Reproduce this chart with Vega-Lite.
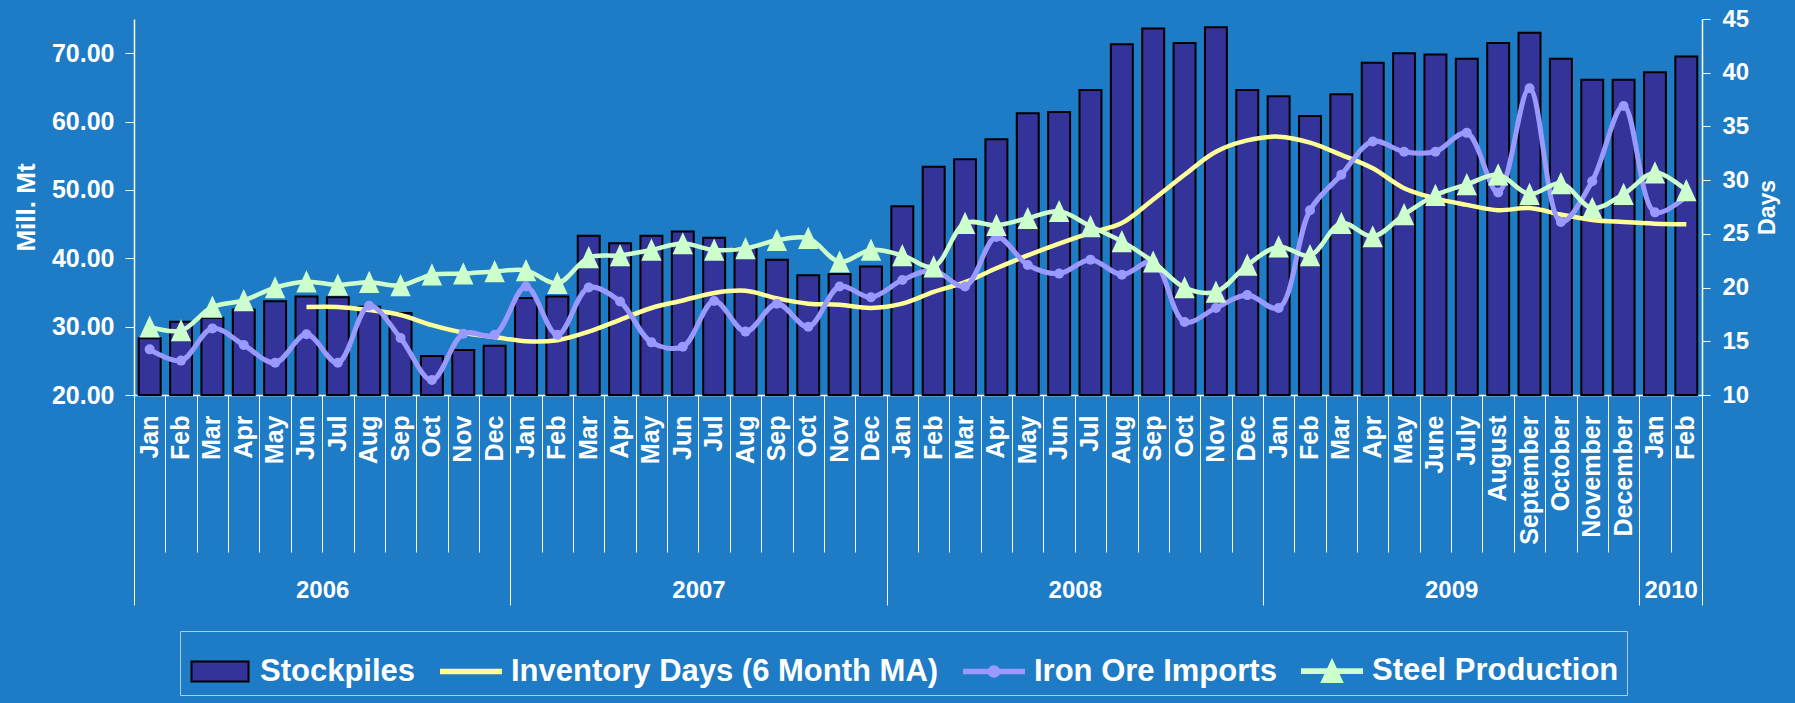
{
  "$schema": "https://vega.github.io/schema/vega-lite/v6.json",
  "width": 1568,
  "height": 376,
  "autosize": {"type": "none"},
  "padding": {"left": 134, "top": 19, "right": 93, "bottom": 308},
  "background": "#1E7BC5",
  "config": {
    "font": "Liberation Sans",
    "view": {"stroke": null},
    "axis": {
      "labelFont": "Liberation Sans", "labelFontWeight": "bold", "labelColor": "white",
      "titleFont": "Liberation Sans", "titleFontWeight": "bold", "titleColor": "white",
      "domainColor": "white", "tickColor": "white", "grid": false
    }
  },
  "data": {"values": [
    {"idx": 0, "key": "2006|Jan", "stock": 28.3, "iron": 14.25, "steel": 16.35},
    {"idx": 1, "key": "2006|Feb", "stock": 30.7, "iron": 13.2, "steel": 16.0},
    {"idx": 2, "key": "2006|Mar", "stock": 31.3, "iron": 16.2, "steel": 18.2},
    {"idx": 3, "key": "2006|Apr", "stock": 32.5, "iron": 14.65, "steel": 18.8},
    {"idx": 4, "key": "2006|May", "stock": 33.7, "iron": 13.0, "steel": 20.0},
    {"idx": 5, "key": "2006|Jun", "stock": 34.4, "inv": 18.2, "iron": 15.65, "steel": 20.55},
    {"idx": 6, "key": "2006|Jul", "stock": 34.3, "inv": 18.2, "iron": 13.0, "steel": 20.25},
    {"idx": 7, "key": "2006|Aug", "stock": 32.9, "inv": 17.9, "iron": 18.3, "steel": 20.5},
    {"idx": 8, "key": "2006|Sep", "stock": 32.0, "inv": 17.45, "iron": 15.3, "steel": 20.2},
    {"idx": 9, "key": "2006|Oct", "stock": 25.7, "inv": 16.5, "iron": 11.4, "steel": 21.2},
    {"idx": 10, "key": "2006|Nov", "stock": 26.6, "inv": 15.8, "iron": 15.7, "steel": 21.3},
    {"idx": 11, "key": "2006|Dec", "stock": 27.2, "inv": 15.4, "iron": 15.6, "steel": 21.5},
    {"idx": 12, "key": "2007|Jan", "stock": 34.2, "inv": 15.0, "iron": 20.1, "steel": 21.6},
    {"idx": 13, "key": "2007|Feb", "stock": 34.4, "inv": 15.1, "iron": 15.6, "steel": 20.4},
    {"idx": 14, "key": "2007|Mar", "stock": 43.3, "inv": 15.9, "iron": 20.0, "steel": 22.8},
    {"idx": 15, "key": "2007|Apr", "stock": 42.2, "inv": 17.0, "iron": 18.7, "steel": 23.0},
    {"idx": 16, "key": "2007|May", "stock": 43.3, "inv": 18.1, "iron": 14.9, "steel": 23.5},
    {"idx": 17, "key": "2007|Jun", "stock": 43.9, "inv": 18.8, "iron": 14.5, "steel": 24.1},
    {"idx": 18, "key": "2007|Jul", "stock": 43.0, "inv": 19.5, "iron": 18.75, "steel": 23.5},
    {"idx": 19, "key": "2007|Aug", "stock": 41.5, "inv": 19.7, "iron": 15.9, "steel": 23.65},
    {"idx": 20, "key": "2007|Sep", "stock": 39.8, "inv": 19.0, "iron": 18.5, "steel": 24.4},
    {"idx": 21, "key": "2007|Oct", "stock": 37.5, "inv": 18.5, "iron": 16.35, "steel": 24.6},
    {"idx": 22, "key": "2007|Nov", "stock": 37.7, "inv": 18.4, "iron": 20.1, "steel": 22.4},
    {"idx": 23, "key": "2007|Dec", "stock": 38.8, "inv": 18.1, "iron": 19.1, "steel": 23.5},
    {"idx": 24, "key": "2008|Jan", "stock": 47.6, "inv": 18.5, "iron": 20.7, "steel": 23.0},
    {"idx": 25, "key": "2008|Feb", "stock": 53.4, "inv": 19.6, "iron": 21.6, "steel": 21.95},
    {"idx": 26, "key": "2008|Mar", "stock": 54.5, "inv": 20.5, "iron": 20.1, "steel": 26.0},
    {"idx": 27, "key": "2008|Apr", "stock": 57.4, "inv": 21.8, "iron": 24.7, "steel": 25.8},
    {"idx": 28, "key": "2008|May", "stock": 61.2, "inv": 23.0, "iron": 22.1, "steel": 26.45},
    {"idx": 29, "key": "2008|Jun", "stock": 61.4, "inv": 24.1, "iron": 21.3, "steel": 27.1},
    {"idx": 30, "key": "2008|Jul", "stock": 64.6, "inv": 25.1, "iron": 22.6, "steel": 25.7},
    {"idx": 31, "key": "2008|Aug", "stock": 71.3, "inv": 26.0, "iron": 21.2, "steel": 24.3},
    {"idx": 32, "key": "2008|Sep", "stock": 73.6, "inv": 28.2, "iron": 22.4, "steel": 22.4},
    {"idx": 33, "key": "2008|Oct", "stock": 71.5, "inv": 30.5, "iron": 16.8, "steel": 20.0},
    {"idx": 34, "key": "2008|Nov", "stock": 73.8, "inv": 32.65, "iron": 18.1, "steel": 19.6},
    {"idx": 35, "key": "2008|Dec", "stock": 64.6, "inv": 33.7, "iron": 19.3, "steel": 22.1},
    {"idx": 36, "key": "2009|Jan", "stock": 63.7, "inv": 34.05, "iron": 18.1, "steel": 23.8},
    {"idx": 37, "key": "2009|Feb", "stock": 60.8, "inv": 33.5, "iron": 27.2, "steel": 23.0},
    {"idx": 38, "key": "2009|Mar", "stock": 64.0, "inv": 32.35, "iron": 30.5, "steel": 26.0},
    {"idx": 39, "key": "2009|Apr", "stock": 68.6, "inv": 31.1, "iron": 33.6, "steel": 24.75},
    {"idx": 40, "key": "2009|May", "stock": 70.0, "inv": 29.25, "iron": 32.65, "steel": 26.8},
    {"idx": 41, "key": "2009|June", "stock": 69.8, "inv": 28.3, "iron": 32.65, "steel": 28.6},
    {"idx": 42, "key": "2009|July", "stock": 69.2, "inv": 27.7, "iron": 34.4, "steel": 29.6},
    {"idx": 43, "key": "2009|August", "stock": 71.5, "inv": 27.2, "iron": 28.85, "steel": 30.5},
    {"idx": 44, "key": "2009|September", "stock": 73.0, "inv": 27.4, "iron": 38.55, "steel": 28.7},
    {"idx": 45, "key": "2009|October", "stock": 69.2, "inv": 26.8, "iron": 26.1, "steel": 29.7},
    {"idx": 46, "key": "2009|November", "stock": 66.1, "inv": 26.3, "iron": 29.9, "steel": 27.4},
    {"idx": 47, "key": "2009|December", "stock": 66.1, "inv": 26.1, "iron": 36.9, "steel": 28.7},
    {"idx": 48, "key": "2010|Jan", "stock": 67.2, "inv": 25.95, "iron": 27.0, "steel": 30.7},
    {"idx": 49, "key": "2010|Feb", "stock": 69.5, "inv": 25.9, "iron": 28.5, "steel": 29.05}
  ]},
  "layer": [
    {
      "encoding": {
        "x": {
          "field": "key", "type": "ordinal", "sort": null,
          "scale": {"paddingInner": 0.3, "paddingOuter": 0.15},
          "axis": {
            "orient": "bottom", "title": null, "ticks": false, "labelAngle": -90,
            "labelExpr": "split(datum.value, '|')[1]", "labelFontSize": 25,
            "labelPadding": 20, "labelOverlap": false, "domainWidth": 1.5
          }
        }
      },
      "layer": [
        {
          "mark": {"type": "bar", "color": "#333399", "stroke": "black", "strokeWidth": 2},
          "encoding": {
            "y": {
              "field": "stock", "type": "quantitative",
              "scale": {"domain": [20, 75], "nice": false, "zero": false},
              "axis": {
                "orient": "left", "values": [20, 30, 40, 50, 60, 70], "format": ".2f",
                "tickSize": 9, "labelPadding": 11, "labelFontSize": 25,
                "title": "Mill. Mt", "titleFontSize": 26, "titlePadding": 12, "domainWidth": 1.5
              }
            },
            "y2": {"datum": 20}
          }
        },
        {
          "transform": [{"fold": ["inv", "iron", "steel"], "as": ["series", "value"]}],
          "encoding": {
            "y": {
              "field": "value", "type": "quantitative",
              "scale": {"domain": [10, 45], "nice": false, "zero": false},
              "axis": {
                "orient": "right", "values": [10, 15, 20, 25, 30, 35, 40, 45],
                "tickSize": 8, "labelPadding": 12, "labelFontSize": 24,
                "title": "Days", "titleFontSize": 23, "titleAngle": -90, "titleBaseline": "top",
                "titlePadding": 8, "domainWidth": 1.5
              }
            }
          },
          "layer": [
            {
              "transform": [{"filter": "datum.series === 'inv'"}],
              "mark": {"type": "line", "color": "#FFFF99", "strokeWidth": 4.5, "interpolate": "catmull-rom"}
            },
            {
              "transform": [{"filter": "datum.series === 'iron'"}],
              "mark": {"type": "line", "color": "#9999FF", "strokeWidth": 5, "interpolate": "catmull-rom"}
            },
            {
              "transform": [{"filter": "datum.series === 'iron'"}],
              "mark": {"type": "point", "shape": "circle", "filled": true, "color": "#9999FF", "opacity": 1, "size": 100}
            },
            {
              "transform": [{"filter": "datum.series === 'steel'"}],
              "mark": {"type": "line", "color": "#CCFFCC", "strokeWidth": 4.5, "interpolate": "catmull-rom"}
            },
            {
              "transform": [{"filter": "datum.series === 'steel'"}],
              "mark": {"type": "point", "shape": "M0,-0.95L0.85,0.9H-0.85Z", "filled": true, "color": "#CCFFCC", "opacity": 1, "size": 576}
            }
          ]
        }
      ],
      "resolve": {"scale": {"y": "independent"}}
    },
    {
      "transform": [{"filter": "false"}],
      "mark": {"type": "rule", "opacity": 0},
      "encoding": {
        "x": {
          "field": "idx", "type": "quantitative",
          "scale": {"domain": [-0.5, 49.5], "nice": false, "zero": false},
          "axis": {
            "orient": "bottom", "title": null, "labels": false, "domain": false,
            "tickSize": 157, "tickWidth": 1,
            "values": [-0.5, 0.5, 1.5, 2.5, 3.5, 4.5, 5.5, 6.5, 7.5, 8.5, 9.5, 10.5, 11.5, 12.5, 13.5, 14.5, 15.5, 16.5, 17.5, 18.5, 19.5, 20.5, 21.5, 22.5, 23.5, 24.5, 25.5, 26.5, 27.5, 28.5, 29.5, 30.5, 31.5, 32.5, 33.5, 34.5, 35.5, 36.5, 37.5, 38.5, 39.5, 40.5, 41.5, 42.5, 43.5, 44.5, 45.5, 46.5, 47.5, 48.5, 49.5]
          }
        }
      }
    },
    {
      "transform": [{"filter": "false"}],
      "mark": {"type": "rule", "opacity": 0},
      "encoding": {
        "x": {
          "field": "idx", "type": "quantitative",
          "scale": {"domain": [-0.5, 49.5], "nice": false, "zero": false},
          "axis": {
            "orient": "bottom", "title": null, "labels": false, "domain": false,
            "tickSize": 210, "tickWidth": 1,
            "values": [-0.5, 11.5, 23.5, 35.5, 47.5, 49.5]
          }
        }
      }
    },
    {
      "transform": [{"filter": "false"}],
      "mark": {"type": "rule", "opacity": 0},
      "encoding": {
        "x": {
          "field": "idx", "type": "quantitative",
          "scale": {"domain": [-0.5, 49.5], "nice": false, "zero": false},
          "axis": {
            "orient": "bottom", "title": null, "ticks": false, "domain": false,
            "labelPadding": 183, "labelFontSize": 24, "labelFlush": false, "labelOverlap": false,
            "values": [5.5, 17.5, 29.5, 41.5, 48.5],
            "labelExpr": "datum.value < 11.5 ? '2006' : datum.value < 23.5 ? '2007' : datum.value < 35.5 ? '2008' : datum.value < 47.5 ? '2009' : '2010'"
          }
        }
      }
    },
    {
      "transform": [{"filter": "false"}],
      "mark": {"type": "point", "filled": true, "opacity": 1, "size": 3844},
      "encoding": {
        "color": {
          "field": "series", "type": "nominal",
          "scale": {
            "domain": ["Stockpiles", "Inventory Days (6 Month MA)", "Iron Ore Imports", "Steel Production"],
            "range": ["#333399", "#FFFF99", "#9999FF", "#CCFFCC"]
          },
          "legend": {
            "title": null, "orient": "none", "legendX": 46, "legendY": 612,
            "direction": "horizontal", "columns": 4, "columnPadding": 20, "padding": 8,
            "strokeColor": "#A8CCEB", "symbolSize": 3844, "symbolOpacity": 1, "symbolStrokeWidth": 2,
            "labelFont": "Liberation Sans", "labelFontWeight": "bold", "labelFontSize": 31,
            "labelColor": "white", "labelLimit": 600, "labelOffset": 8,
            "encode": {"symbols": {"update": {"stroke": {"signal": "datum.value === 'Stockpiles' ? 'black' : 'transparent'"}}}}
          }
        },
        "shape": {
          "field": "series", "type": "nominal",
          "scale": {
            "domain": ["Stockpiles", "Inventory Days (6 Month MA)", "Iron Ore Imports", "Steel Production"],
            "range": [
              "M-0.92,-0.32H0.92V0.32H-0.92Z",
              "M-1,-0.09H1V0.09H-1Z",
              "M-1,-0.09H1V0.09H-1Z M-0.2,0A0.2,0.2 0 1,1 0.2,0A0.2,0.2 0 1,1 -0.2,0Z",
              "M-1,-0.09H1V0.09H-1Z M0,-0.42L0.38,0.38H-0.38Z"
            ]
          }
        }
      }
    }
  ],
  "resolve": {"scale": {"x": "independent", "y": "independent"}}
}
